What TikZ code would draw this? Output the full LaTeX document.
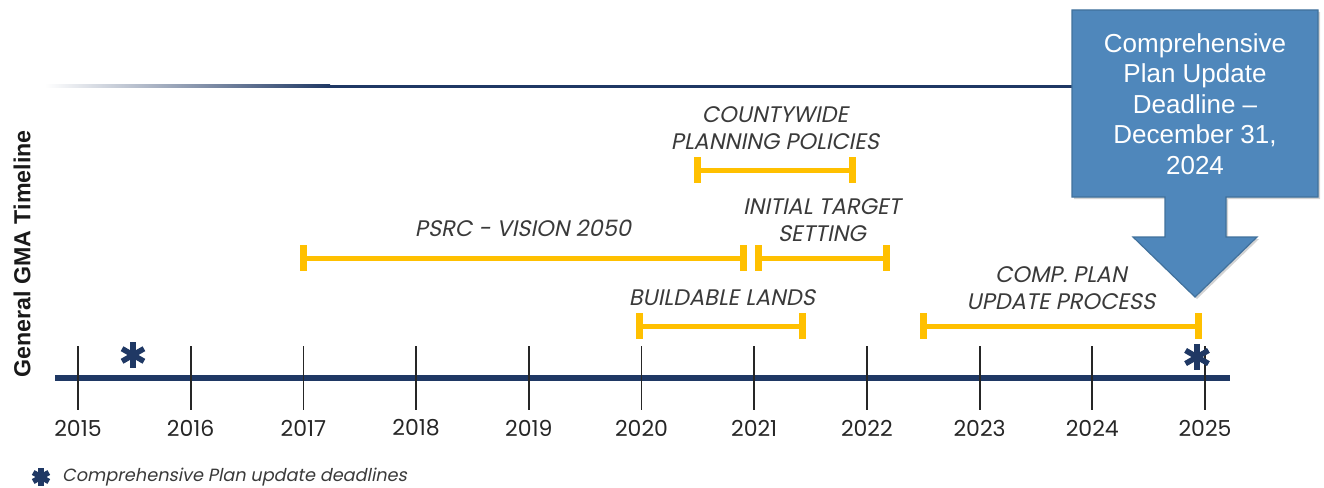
\documentclass[tikz,border=0pt]{standalone}
\usepackage{fontspec}
\setmainfont{Liberation Sans}
\newfontfamily\gothic[FakeSlant=0.2]{Poppins}
\newfontfamily\gothicup{Poppins}
\usetikzlibrary{shadows}
\definecolor{navy}{HTML}{1F3864}
\definecolor{gold}{HTML}{FFC000}
\definecolor{callfill}{HTML}{4F87BB}
\definecolor{callline}{HTML}{41719C}
\definecolor{labgray}{HTML}{3A3A3A}
\tikzset{
  barline/.style={draw=gold, line width=5pt},
  capline/.style={draw=gold, line width=7pt},
  tickline/.style={draw=black!85, line width=1.8pt},
  axisline/.style={draw=navy, line width=6pt},
  barlabel/.style={text=labgray, font=\gothic\fontsize{22.5}{27}\selectfont, align=center, inner sep=0pt},
  yearlabel/.style={text=black!85, font=\gothicup\fontsize{22}{22}\selectfont, inner sep=0pt},
  calloutshape/.style={fill=callfill, draw=callline, line width=1.2pt, line join=miter,
     drop shadow={opacity=0.35, shadow xshift=2pt, shadow yshift=-2pt}},
  pics/aster/.style={code={
     \foreach \a in {90,30,-30}{\draw[navy, line width=5.5pt] (\a:-12) -- (\a:12);}
  }}
}
\begin{document}
\begin{tikzpicture}[x=1pt,y=-1pt]
\useasboundingbox (0,0) rectangle (1324,487);

% top line
\coordinate (tl) at (45,86);
\coordinate (tm) at (330,86);
\coordinate (tr) at (1075,86);
\shade[left color=white, right color=navy] ([yshift=-1.5pt]tl) rectangle ([yshift=1.5pt]tm);
\fill[navy] ([yshift=-1.5pt]tm) rectangle ([yshift=1.5pt]tr);

% vertical label
\node[rotate=90, font=\bfseries\fontsize{23.2}{23}\selectfont, text=black!90, inner sep=0pt] (ylab) at (22,254) {General GMA Timeline};

% axis
\coordinate (axL) at (55,378);
\coordinate (axR) at (1230,378);
\draw[axisline] (axL) -- (axR);

\foreach \yr [count=\i from 0] in {2015,2016,2017,2018,2019,2020,2021,2022,2023,2024,2025}{
  \coordinate (t\yr) at ({78+112.7*\i},346);
  \coordinate (b\yr) at ({78+112.7*\i},410);
  \draw[tickline] (t\yr) -- (b\yr);
  \node[yearlabel] (y\yr) at ({78+112.7*\i},428) {\yr};
}

% bars
\foreach \n/\xa/\xb/\yy in {cpp/697/852/170, psrc/303/743/258, its/758/886/258, bl/639/802/326, cp/923/1198/326}{
  \coordinate (\n L) at (\xa,\yy);
  \coordinate (\n R) at (\xb,\yy);
  \draw[barline] (\n L) -- (\n R);
  \draw[capline] ([yshift=13pt]\n L) -- ([yshift=-13pt]\n L);
  \draw[capline] ([yshift=13pt]\n R) -- ([yshift=-13pt]\n R);
}

% bar labels
\node[barlabel] (lcpp) at (775,128) {COUNTYWIDE\\PLANNING POLICIES};
\node[barlabel] (lpsrc) at (523,228) {PSRC - VISION 2050};
\node[barlabel] (lits) at (822,220) {INITIAL TARGET\\SETTING};
\node[barlabel] (lbl) at (722,298) {BUILDABLE LANDS};
\node[barlabel] (lcp) at (1061,288) {COMP. PLAN\\UPDATE PROCESS};

% asterisks
\pic[scale=1.05] at (133,355) {aster};
\pic[scale=1.1] at (1197,357) {aster};

% callout
\draw[calloutshape] (1072,10) -- (1318,10) -- (1318,197) -- (1226,197) -- (1226,237) -- (1257,237)
   -- (1195,297) -- (1133,237) -- (1165,237) -- (1165,197) -- (1072,197) -- cycle;
\node[text=white, align=center, font=\fontsize{26}{30.5}\selectfont, inner sep=0pt] (calltext) at (1195,104)
   {Comprehensive\\Plan Update\\Deadline –\\December 31,\\2024};

% legend
\pic[scale=0.75] at (41,477) {aster};
\node[anchor=west, text=labgray, font=\gothic\fontsize{17.7}{17.7}\selectfont, inner sep=0pt] (legend) at (62,477)
   {Comprehensive Plan update deadlines};
\end{tikzpicture}
\end{document}
